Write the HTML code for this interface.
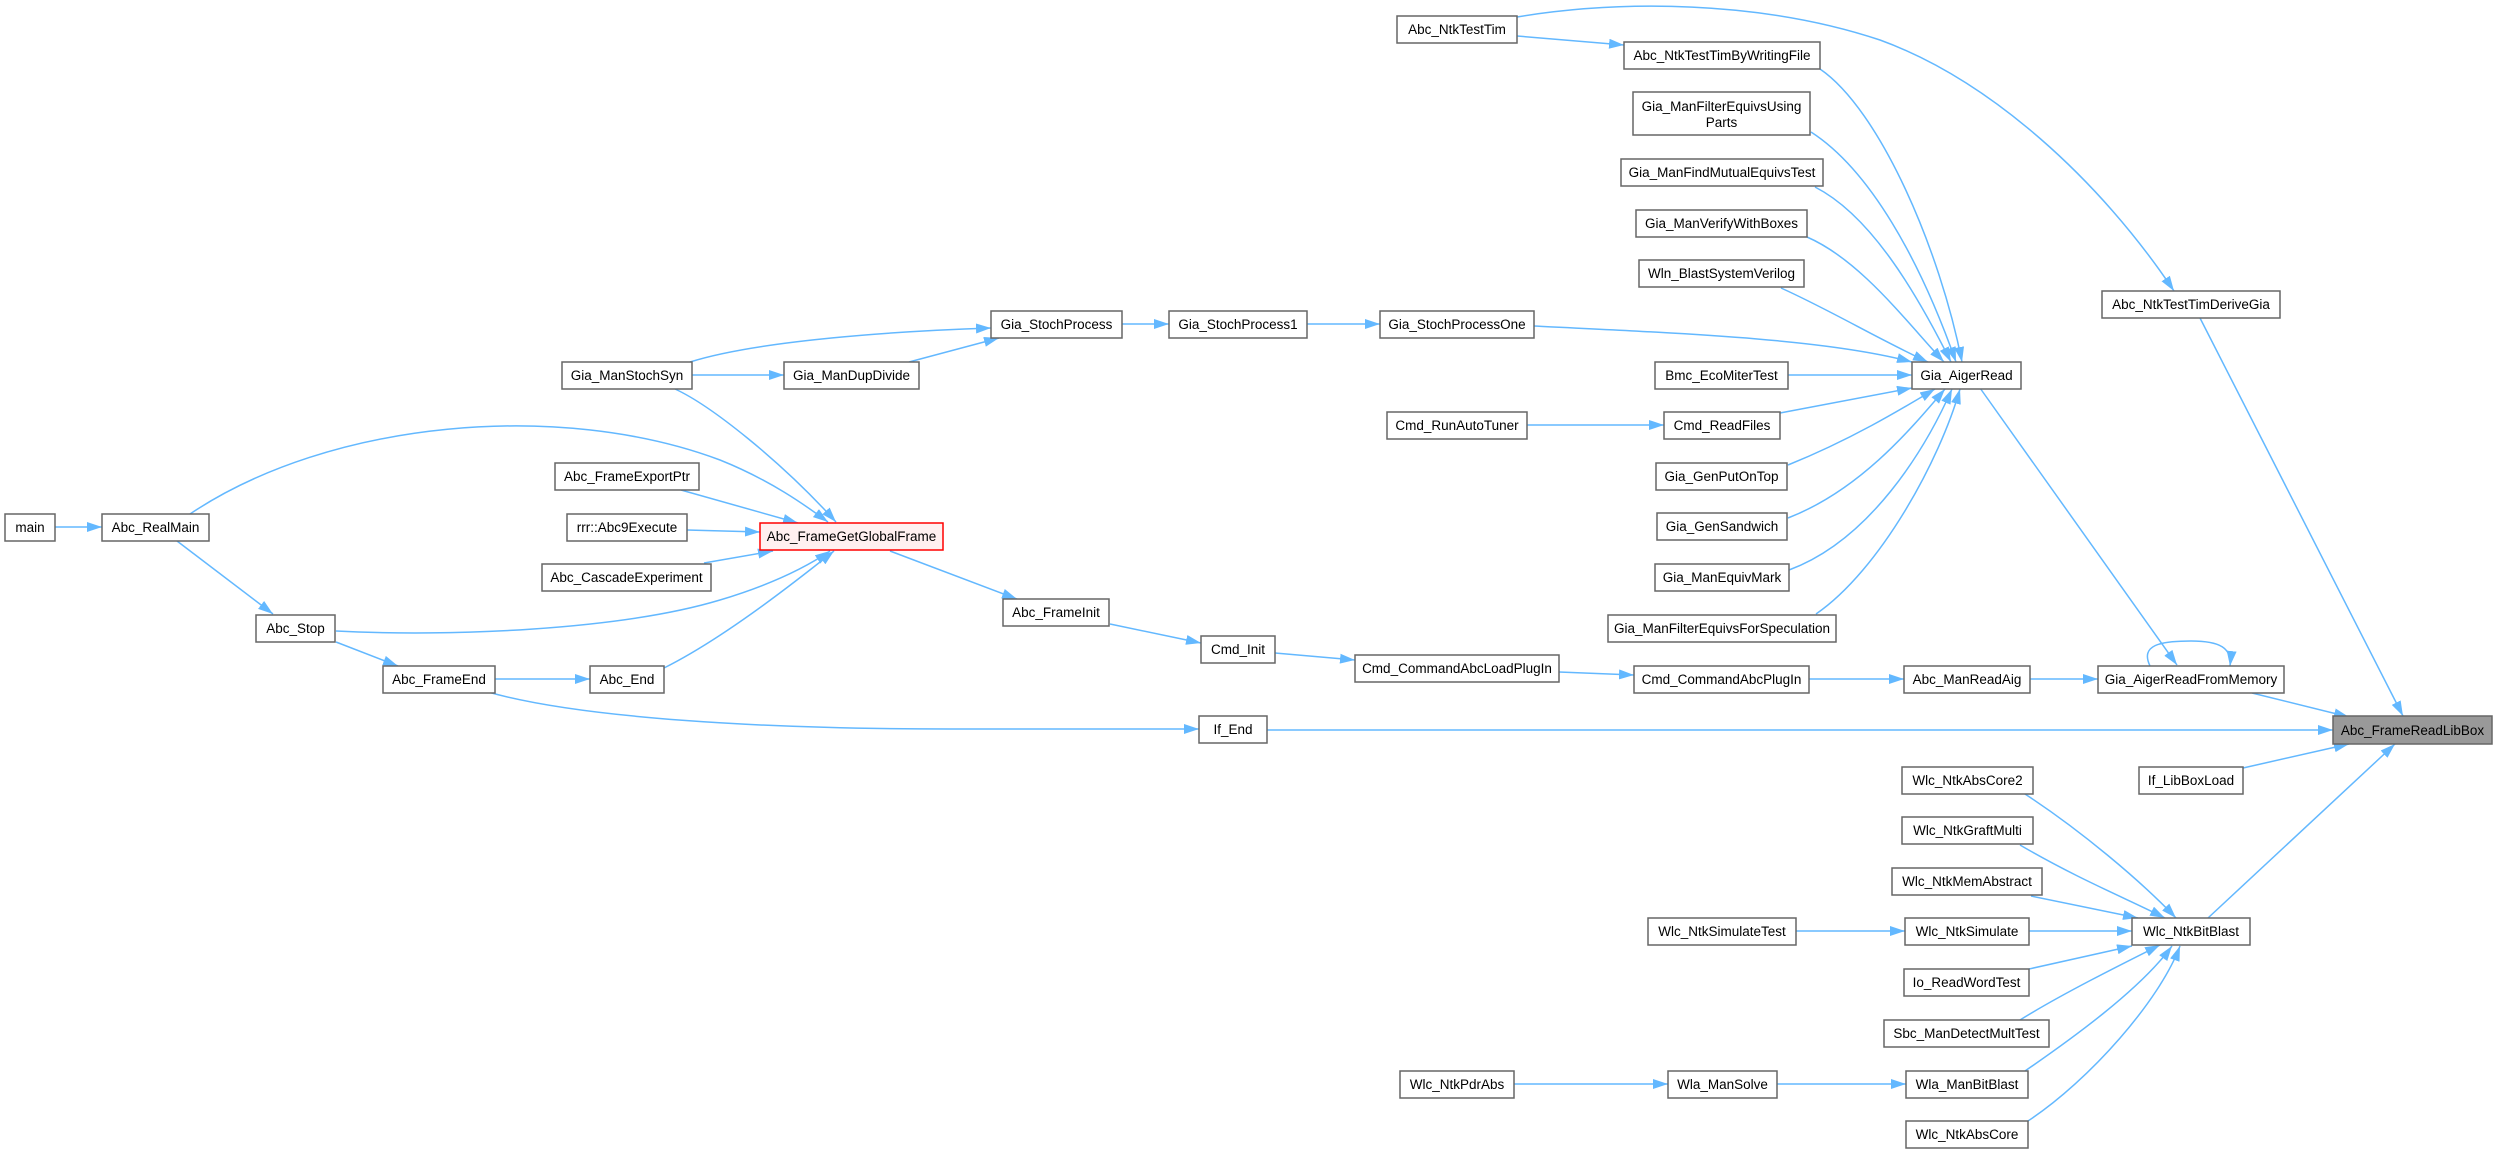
<!DOCTYPE html>
<html><head><meta charset="utf-8"><style>
html,body{margin:0;padding:0;background:#fff;}
svg{display:block;}
text{font-family:"Liberation Sans",Arial,sans-serif;font-size:13.5px;fill:#000;text-anchor:middle;}
.n{fill:#fff;stroke:#666;stroke-width:1.5;}
.e{fill:none;stroke:#63b8ff;stroke-width:1.5;}
</style></head><body>
<svg width="2497" height="1154" viewBox="0 0 2497 1154" xmlns="http://www.w3.org/2000/svg">
<defs><marker id="a" markerUnits="userSpaceOnUse" markerWidth="15" markerHeight="10" refX="15" refY="5" orient="auto"><path d="M0,0 L15,5 L0,10 z" fill="#63b8ff"/></marker></defs>
<g class="edges">
<path class="e" marker-end="url(#a)" d="M55,527 L102,527"/>
<path class="e" marker-end="url(#a)" d="M190,514 C330,420 560,400 720,460 C770,480 805,505 828,522"/>
<path class="e" marker-end="url(#a)" d="M177,541 L273,614"/>
<path class="e" marker-end="url(#a)" d="M336,631 C450,637 620,630 720,600 C770,585 805,568 830,551"/>
<path class="e" marker-end="url(#a)" d="M336,642 L398,666"/>
<path class="e" marker-end="url(#a)" d="M495,679 L590,679"/>
<path class="e" marker-end="url(#a)" d="M664,668 C720,640 785,590 834,551"/>
<path class="e" marker-end="url(#a)" d="M488,692 C580,718 760,729 950,729 L1199,729"/>
<path class="e" marker-end="url(#a)" d="M675,389 C710,405 780,460 836,522"/>
<path class="e" marker-end="url(#a)" d="M692,375 L784,375"/>
<path class="e" marker-end="url(#a)" d="M690,362 C760,340 900,331 991,328"/>
<path class="e" marker-end="url(#a)" d="M909,362 L999,338"/>
<path class="e" marker-end="url(#a)" d="M1122,324 L1169,324"/>
<path class="e" marker-end="url(#a)" d="M1307,324 L1380,324"/>
<path class="e" marker-end="url(#a)" d="M1534,326 C1700,334 1830,340 1912,362"/>
<path class="e" marker-end="url(#a)" d="M681,490 L798,523"/>
<path class="e" marker-end="url(#a)" d="M687,530 L760,532"/>
<path class="e" marker-end="url(#a)" d="M704,563 L773,551"/>
<path class="e" marker-end="url(#a)" d="M890,551 L1017,599"/>
<path class="e" marker-end="url(#a)" d="M1110,624 L1201,643"/>
<path class="e" marker-end="url(#a)" d="M1275,653 L1355,660"/>
<path class="e" marker-end="url(#a)" d="M1559,672 L1634,675"/>
<path class="e" marker-end="url(#a)" d="M1809,679 L1904,679"/>
<path class="e" marker-end="url(#a)" d="M2030,679 L2098,679"/>
<path class="e" marker-end="url(#a)" d="M1980,388 L2177,665"/>
<path class="e" marker-end="url(#a)" d="M2150,666 C2140,645 2160,641 2191,641 C2220,641 2232,648 2230,666"/>
<path class="e" marker-end="url(#a)" d="M2252,693 L2349,717"/>
<path class="e" marker-end="url(#a)" d="M1267,730 L2333,730"/>
<path class="e" marker-end="url(#a)" d="M2243,768 L2349,744"/>
<path class="e" marker-end="url(#a)" d="M2200,318 L2403,716"/>
<path class="e" marker-end="url(#a)" d="M1517,36 L1624,45"/>
<path class="e" marker-end="url(#a)" d="M1517,17 C1620,0 1760,0 1880,40 C1990,80 2100,180 2174,291"/>
<path class="e" marker-end="url(#a)" d="M1820,69 C1880,110 1940,250 1962,362"/>
<path class="e" marker-end="url(#a)" d="M1811,132 C1870,170 1920,260 1956,362"/>
<path class="e" marker-end="url(#a)" d="M1815,187 C1870,215 1915,290 1951,362"/>
<path class="e" marker-end="url(#a)" d="M1807,237 C1860,260 1905,320 1944,362"/>
<path class="e" marker-end="url(#a)" d="M1781,288 C1830,310 1880,340 1928,362"/>
<path class="e" marker-end="url(#a)" d="M1788,375 L1912,375"/>
<path class="e" marker-end="url(#a)" d="M1780,413 L1912,388"/>
<path class="e" marker-end="url(#a)" d="M1788,465 C1850,440 1900,410 1935,389"/>
<path class="e" marker-end="url(#a)" d="M1788,518 C1860,490 1910,430 1945,389"/>
<path class="e" marker-end="url(#a)" d="M1789,570 C1870,540 1925,450 1952,389"/>
<path class="e" marker-end="url(#a)" d="M1816,614 C1880,570 1940,460 1960,389"/>
<path class="e" marker-end="url(#a)" d="M1527,425 L1664,425"/>
<path class="e" marker-end="url(#a)" d="M2025,794 C2080,830 2140,880 2176,918"/>
<path class="e" marker-end="url(#a)" d="M2020,845 C2080,880 2130,900 2165,918"/>
<path class="e" marker-end="url(#a)" d="M2031,896 L2138,918"/>
<path class="e" marker-end="url(#a)" d="M2029,931 L2132,931"/>
<path class="e" marker-end="url(#a)" d="M1796,931 L1905,931"/>
<path class="e" marker-end="url(#a)" d="M2029,969 L2132,946"/>
<path class="e" marker-end="url(#a)" d="M2020,1020 C2060,995 2120,965 2160,945"/>
<path class="e" marker-end="url(#a)" d="M2025,1071 C2070,1040 2140,990 2172,946"/>
<path class="e" marker-end="url(#a)" d="M2028,1121 C2090,1080 2160,1000 2180,946"/>
<path class="e" marker-end="url(#a)" d="M2208,918 L2395,744"/>
<path class="e" marker-end="url(#a)" d="M1514,1084 L1668,1084"/>
<path class="e" marker-end="url(#a)" d="M1777,1084 L1906,1084"/>
</g>
<g>
<rect class="n" x="5" y="514" width="50" height="27"/><text x="30" y="532">main</text>
<rect class="n" x="102" y="514" width="107" height="27"/><text x="155.5" y="532">Abc_RealMain</text>
<rect class="n" x="256" y="615" width="79" height="27"/><text x="295.5" y="633">Abc_Stop</text>
<rect class="n" x="383" y="666" width="112" height="27"/><text x="439" y="684">Abc_FrameEnd</text>
<rect class="n" x="590" y="666" width="74" height="27"/><text x="627" y="684">Abc_End</text>
<rect class="n" x="562" y="362" width="130" height="27"/><text x="627" y="380">Gia_ManStochSyn</text>
<rect class="n" x="784" y="362" width="135" height="27"/><text x="851.5" y="380">Gia_ManDupDivide</text>
<rect class="n" x="991" y="311" width="131" height="27"/><text x="1056.5" y="329">Gia_StochProcess</text>
<rect class="n" x="1169" y="311" width="138" height="27"/><text x="1238" y="329">Gia_StochProcess1</text>
<rect class="n" x="1380" y="311" width="154" height="27"/><text x="1457" y="329">Gia_StochProcessOne</text>
<rect class="n" x="555" y="463" width="144" height="27"/><text x="627" y="481">Abc_FrameExportPtr</text>
<rect class="n" x="567" y="514" width="120" height="27"/><text x="627" y="532">rrr::Abc9Execute</text>
<rect class="n" x="542" y="564" width="169" height="27"/><text x="626.5" y="582">Abc_CascadeExperiment</text>
<rect x="760" y="523" width="183" height="27" fill="#fff0f0" stroke="#ff0000" stroke-width="1.5"/><text x="851.5" y="541">Abc_FrameGetGlobalFrame</text>
<rect class="n" x="1003" y="599" width="106" height="27"/><text x="1056" y="617">Abc_FrameInit</text>
<rect class="n" x="1201" y="636" width="74" height="27"/><text x="1238" y="654">Cmd_Init</text>
<rect class="n" x="1355" y="655" width="204" height="27"/><text x="1457" y="673">Cmd_CommandAbcLoadPlugIn</text>
<rect class="n" x="1634" y="666" width="175" height="27"/><text x="1721.5" y="684">Cmd_CommandAbcPlugIn</text>
<rect class="n" x="1904" y="666" width="126" height="27"/><text x="1967" y="684">Abc_ManReadAig</text>
<rect class="n" x="2098" y="666" width="186" height="27"/><text x="2191" y="684">Gia_AigerReadFromMemory</text>
<rect x="2333" y="716" width="159" height="28" fill="#999" stroke="#666" stroke-width="1.5"/><text x="2412.5" y="735">Abc_FrameReadLibBox</text>
<rect class="n" x="1199" y="716" width="68" height="27"/><text x="1233" y="734">If_End</text>
<rect class="n" x="2139" y="767" width="104" height="27"/><text x="2191" y="785">If_LibBoxLoad</text>
<rect class="n" x="1902" y="767" width="131" height="27"/><text x="1967.5" y="785">Wlc_NtkAbsCore2</text>
<rect class="n" x="1902" y="817" width="131" height="27"/><text x="1967.5" y="835">Wlc_NtkGraftMulti</text>
<rect class="n" x="1892" y="868" width="150" height="27"/><text x="1967" y="886">Wlc_NtkMemAbstract</text>
<rect class="n" x="1648" y="918" width="148" height="27"/><text x="1722" y="936">Wlc_NtkSimulateTest</text>
<rect class="n" x="1905" y="918" width="124" height="27"/><text x="1967" y="936">Wlc_NtkSimulate</text>
<rect class="n" x="2132" y="918" width="118" height="27"/><text x="2191" y="936">Wlc_NtkBitBlast</text>
<rect class="n" x="1904" y="969" width="125" height="27"/><text x="1966.5" y="987">Io_ReadWordTest</text>
<rect class="n" x="1884" y="1020" width="165" height="27"/><text x="1966.5" y="1038">Sbc_ManDetectMultTest</text>
<rect class="n" x="1400" y="1071" width="114" height="27"/><text x="1457" y="1089">Wlc_NtkPdrAbs</text>
<rect class="n" x="1668" y="1071" width="109" height="27"/><text x="1722.5" y="1089">Wla_ManSolve</text>
<rect class="n" x="1906" y="1071" width="122" height="27"/><text x="1967" y="1089">Wla_ManBitBlast</text>
<rect class="n" x="1906" y="1121" width="122" height="27"/><text x="1967" y="1139">Wlc_NtkAbsCore</text>
<rect class="n" x="1397" y="16" width="120" height="27"/><text x="1457" y="34">Abc_NtkTestTim</text>
<rect class="n" x="1624" y="42" width="196" height="27"/><text x="1722" y="60">Abc_NtkTestTimByWritingFile</text>
<rect class="n" x="1633" y="92" width="177" height="43"/><text x="1721.5" y="111">Gia_ManFilterEquivsUsing</text><text x="1721.5" y="127">Parts</text>
<rect class="n" x="1621" y="159" width="202" height="27"/><text x="1722" y="177">Gia_ManFindMutualEquivsTest</text>
<rect class="n" x="1636" y="210" width="171" height="27"/><text x="1721.5" y="228">Gia_ManVerifyWithBoxes</text>
<rect class="n" x="1639" y="260" width="165" height="27"/><text x="1721.5" y="278">Wln_BlastSystemVerilog</text>
<rect class="n" x="1655" y="362" width="133" height="27"/><text x="1721.5" y="380">Bmc_EcoMiterTest</text>
<rect class="n" x="1387" y="412" width="140" height="27"/><text x="1457" y="430">Cmd_RunAutoTuner</text>
<rect class="n" x="1664" y="412" width="116" height="27"/><text x="1722" y="430">Cmd_ReadFiles</text>
<rect class="n" x="1656" y="463" width="131" height="27"/><text x="1721.5" y="481">Gia_GenPutOnTop</text>
<rect class="n" x="1657" y="513" width="130" height="27"/><text x="1722" y="531">Gia_GenSandwich</text>
<rect class="n" x="1655" y="564" width="134" height="27"/><text x="1722" y="582">Gia_ManEquivMark</text>
<rect class="n" x="1608" y="615" width="228" height="27"/><text x="1722" y="633">Gia_ManFilterEquivsForSpeculation</text>
<rect class="n" x="1912" y="362" width="109" height="27"/><text x="1966.5" y="380">Gia_AigerRead</text>
<rect class="n" x="2102" y="291" width="178" height="27"/><text x="2191" y="309">Abc_NtkTestTimDeriveGia</text>
</g>
</svg>
</body></html>
